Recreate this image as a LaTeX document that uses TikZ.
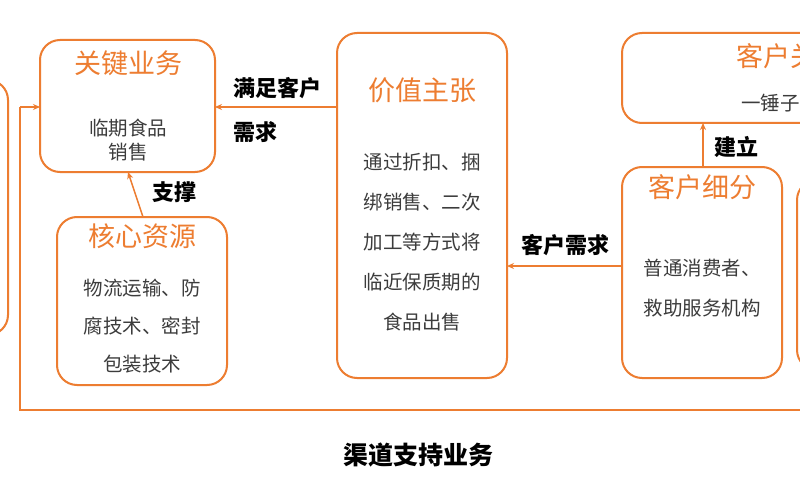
\documentclass[tikz,border=0pt]{standalone}
\usepackage{fontspec}
\setmainfont{Noto Sans CJK SC}
\usetikzlibrary{arrows.meta}
\definecolor{org}{RGB}{237,125,49}
\definecolor{txt}{RGB}{60,60,60}
\tikzset{
 cbox/.style={draw=org,line width=2pt,rounded corners=20pt},
 ttl/.style={text=org,font=\fontsize{27}{30}\selectfont},
 body/.style={text=txt,font=\fontsize{19.5}{40}\selectfont,align=center},
 lbl/.style={text=black,font=\bfseries\fontsize{22}{40}\selectfont,align=left},
 con/.style={draw=org,line width=1.5pt,-{Stealth[length=7pt,width=6pt]}}
}
\begin{document}
\begin{tikzpicture}[x=1pt,y=-1pt]
\useasboundingbox (0,0) rectangle (800,500);
\clip (0,0) rectangle (800,500);
\fill[white] (0,0) rectangle (800,500);
% partial boxes
\draw[cbox] (-60,80) rectangle (8,335);
\draw[cbox] (797,180) rectangle (880,370);
% key activities
\draw[cbox] (40,40) rectangle (215,172);
\coordinate (kaL) at (40,107); \coordinate (kaR) at (215,107); \coordinate (kaB) at (128,172);
\node[ttl] (kat) at (128,63) {关键业务};
\node[body,font=\fontsize{19.5}{24}\selectfont] (kab) at (128,140) {临期食品\\销售};
% core resources
\draw[cbox] (57,217) rectangle (227,385);
\coordinate (crT) at (143,217);
\node[ttl] (crt) at (142,236) {核心资源};
\node[body,font=\fontsize{19.5}{38}\selectfont] (crb) at (142,326) {物流运输、防\\腐技术、密封\\包装技术};
% value proposition
\draw[cbox] (337,33) rectangle (507,378);
\coordinate (vpL) at (337,107); \coordinate (vpR) at (507,266);
\node[ttl] (vpt) at (422,90) {价值主张};
\node[body] (vpb) at (422,242) {通过折扣、捆\\绑销售、二次\\加工等方式将\\临近保质期的\\食品出售};
% customer segments
\draw[cbox] (622,167) rectangle (782,378);
\coordinate (csL) at (622,266); \coordinate (csT) at (703,167);
\node[ttl] (cst) at (702,187) {客户细分};
\node[body] (csb) at (702,288) {普通消费者、\\救助服务机构};
% customer relationships
\draw[cbox] (622,33) rectangle (948,123);
\coordinate (crelB) at (703,123);
\node[ttl] (crelt) at (790,56) {客户关系};
\node[body] (crelb) at (790,103) {一锤子买卖};
% connectors
\draw[con] (vpL) -- (kaR);
\node[lbl,anchor=west] (l1) at (230,88) {满足客户};
\node[lbl,anchor=west] (l2) at (230,132) {需求};
\draw[con] (crT) -- (kaB);
\node[lbl] (l3) at (174,192) {支撑};
\draw[con] (csL) -- (vpR);
\node[lbl] (l4) at (565,245) {客户需求};
\draw[con] (csT) -- (crelB);
\node[lbl] (l5) at (736,147) {建立};
\coordinate (lp1) at (20,107); \coordinate (lp2) at (20,410); \coordinate (lp3) at (820,410);
\draw[org,line width=1.5pt] (lp3) -- (lp2) -- (lp1);
\draw[con] (lp1) -- (kaL);
\node[lbl,font=\bfseries\fontsize{25}{28}\selectfont] (l6) at (418,455) {渠道支持业务};
\end{tikzpicture}
\end{document}
